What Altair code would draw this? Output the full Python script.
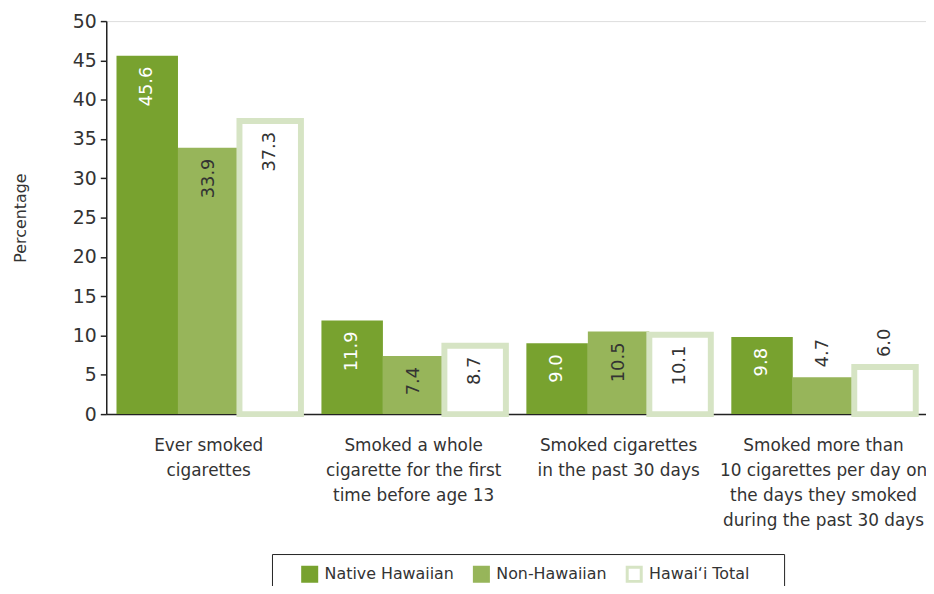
import altair as alt
import pandas as pd

categories = [
    "Ever smoked\ncigarettes",
    "Smoked a whole\ncigarette for the first\ntime before age 13",
    "Smoked cigarettes\nin the past 30 days",
    "Smoked more than\n10 cigarettes per day on\nthe days they smoked\nduring the past 30 days",
]
groups = ["Native Hawaiian", "Non-Hawaiian", "Hawai\u2018i Total"]
native = [45.6, 11.9, 9.0, 9.8]
non_hawaiian = [33.9, 7.4, 10.5, 4.7]
total = [37.3, 8.7, 10.1, 6.0]

fill_colors = ["#78a22f", "#97b55a", "#ffffff"]
stroke_colors = ["#78a22f", "#97b55a", "#d6e4c4"]

rows = []
for g, vals in zip(groups, [native, non_hawaiian, total]):
    for c, v in zip(categories, vals):
        rows.append({"category": c, "group": g, "value": v,
                     "label": f"{v:.1f}", "inside": v >= 7})
df = pd.DataFrame(rows)

FONT = "DejaVu Sans"
TXT = "#333333"
NB = "\u00a0"

legend_def = alt.Legend(
    orient="none", legendX=167, legendY=537, direction="horizontal",
    title=NB, titleOrient="left", titlePadding=18,
    labelFontSize=16, labelColor=TXT, labelFont=FONT,
    symbolType="square", symbolSize=200, symbolStrokeWidth=3,
    labelOffset=6, columnPadding=13, padding=11,
    strokeColor="#222222", labelLimit=400,
    labelExpr="indexof(datum.label, 'Total') >= 0 ? datum.label + '\u2800\u2800' : datum.label",
)

base = alt.Chart(df)

x_enc = alt.X(
    "category:N", sort=categories,
    scale=alt.Scale(paddingInner=0.1, paddingOuter=0.05),
    axis=alt.Axis(title=None, ticks=False, labelAngle=0,
                  labelExpr="split(datum.label, '\\n')",
                  labelFontSize=17, labelLineHeight=25, labelPadding=24,
                  labelLimit=400,
                  labelColor=TXT, labelFont=FONT, labelBaseline="top",
                  domainColor="#222222", domainWidth=1.5),
)
xo_enc = alt.XOffset("group:N", sort=groups,
                     scale=alt.Scale(paddingInner=0, paddingOuter=0))
y_enc = alt.Y(
    "value:Q", scale=alt.Scale(domain=[0, 50]),
    axis=alt.Axis(values=list(range(0, 51, 5)), tickSize=6, grid=False,
                  labelOverlap=False,
                  domainColor="#222222", tickColor="#222222",
                  domainWidth=1.5, tickWidth=1.5,
                  labelFontSize=19, labelColor=TXT, labelFont=FONT,
                  labelPadding=4, title="Percentage", titleFontSize=16,
                  titleFontWeight="normal", titleColor=TXT, titleFont=FONT,
                  titlePadding=44),
)

bars = base.mark_bar().encode(
    x=x_enc, xOffset=xo_enc, y=y_enc,
    fill=alt.Fill("group:N", sort=groups,
                  scale=alt.Scale(domain=groups, range=fill_colors),
                  legend=legend_def),
    stroke=alt.Stroke("group:N", sort=groups,
                      scale=alt.Scale(domain=groups, range=stroke_colors),
                      legend=legend_def),
    strokeWidth=alt.condition(alt.datum.group == groups[2],
                              alt.value(6), alt.value(0)),
)

inside = base.transform_filter(alt.datum.inside).mark_text(
    angle=270, align="right", baseline="middle", dx=-11, fontSize=18, font=FONT
).encode(
    x=x_enc, xOffset=xo_enc, y=y_enc, text="label:N",
    color=alt.condition(alt.datum.group == groups[0],
                        alt.value("#ffffff"), alt.value(TXT)),
)
outside = base.transform_filter(~alt.datum.inside).mark_text(
    angle=270, align="left", baseline="middle", dx=10, fontSize=18,
    font=FONT, color=TXT
).encode(
    x=x_enc, xOffset=xo_enc, y=y_enc, text="label:N",
)

chart = alt.layer(bars, inside, outside).properties(
    width=826, height=396,
    autosize=alt.AutoSizeParams(type="none"),
    padding={"left": 99, "top": 11, "right": 0, "bottom": 171},
).configure_view(stroke=None).configure(font=FONT)

chart.save("out.html", embed_options={"renderer": "svg", "actions": False})
